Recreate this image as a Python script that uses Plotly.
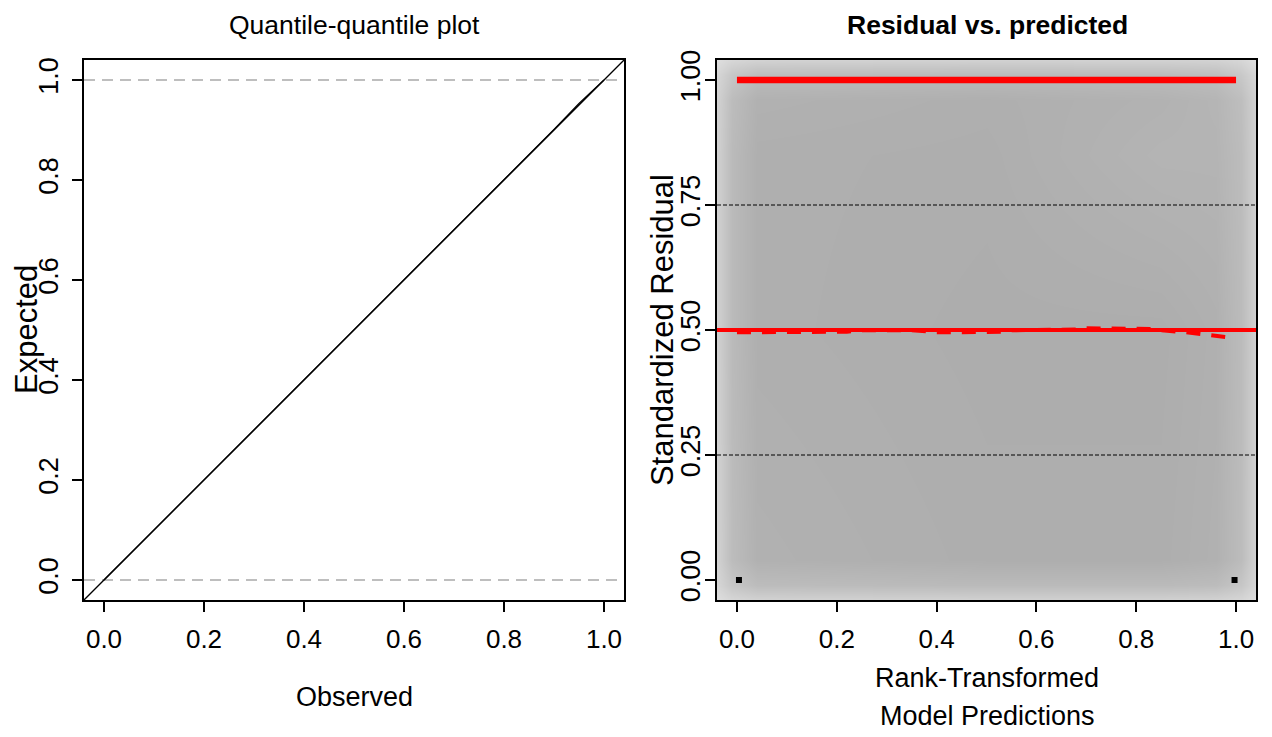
import plotly.graph_objects as go

W, H = 1272, 737
PAGE_OFFSET = 8   # default body margin of the written HTML page

# ---------------- data ----------------
# Left panel: QQ plot (uniform quantiles)
qq_observed = [0.0, 0.1, 0.2, 0.3, 0.4, 0.5, 0.6, 0.7, 0.8, 0.9, 0.95, 1.0]
qq_expected = [0.0, 0.1, 0.2, 0.3, 0.4, 0.5, 0.6, 0.7, 0.8, 0.901, 0.953, 1.0]
ref_line = [-0.04, 1.04]          # abline(0, 1) across the panel
qq_hlines = [0.0, 1.0]            # grey dashed guides

left_xticks = [0.0, 0.2, 0.4, 0.6, 0.8, 1.0]
left_xticklabels = ["0.0", "0.2", "0.4", "0.6", "0.8", "1.0"]
left_yticks = [0.0, 0.2, 0.4, 0.6, 0.8, 1.0]
left_yticklabels = ["0.0", "0.2", "0.4", "0.6", "0.8", "1.0"]

# Right panel: residual vs predicted
pred_x = [0.0, 0.05, 0.1, 0.15, 0.2, 0.22, 0.25, 0.3, 0.35, 0.38, 0.4, 0.45, 0.5,
          0.53, 0.55, 0.6, 0.65, 0.68, 0.7, 0.75, 0.8, 0.83, 0.85, 0.88, 0.9,
          0.93, 0.95, 0.98, 1.0]
q50_fit = [0.4955, 0.4955, 0.4955, 0.4955, 0.4955, 0.4965, 0.4995, 0.5, 0.4995,
           0.4975, 0.4955, 0.4955, 0.4955, 0.4965, 0.4995, 0.5, 0.5, 0.501,
           0.5035, 0.5035, 0.5035, 0.502, 0.4995, 0.4975, 0.4955, 0.492, 0.490,
           0.4865, 0.4835]
top_fit_x = [0.0, 1.0]
top_fit_y = [1.0, 1.0]
outlier_x = [0.004, 0.997]
outlier_y = [0.0, 0.0]
quantile_guides = [0.25, 0.75]
median_guide = 0.5

right_xticks = [0.0, 0.2, 0.4, 0.6, 0.8, 1.0]
right_xticklabels = ["0.0", "0.2", "0.4", "0.6", "0.8", "1.0"]
right_yticks = [0.0, 0.25, 0.5, 0.75, 1.0]
right_yticklabels = ["0.00", "0.25", "0.50", "0.75", "1.00"]

# smoothScatter-like density background (grey level 0-255)
density_x = [-0.04, -0.01, 0.04, 0.5, 0.85, 0.96, 1.01, 1.04]
density_y = [-0.04, -0.01, 0.04, 0.5, 0.85, 0.96, 1.01, 1.04]
density_gray = [
    [222, 214, 210, 209, 209, 210, 214, 222],
    [214, 198, 188, 186, 186, 188, 198, 214],
    [210, 188, 177, 174, 174, 177, 188, 210],
    [209, 186, 175, 173, 173, 176, 187, 209],
    [209, 186, 175, 174, 180, 180, 188, 209],
    [210, 188, 177, 175, 178, 181, 190, 210],
    [214, 198, 188, 186, 187, 190, 200, 214],
    [222, 214, 210, 209, 209, 210, 214, 222],
]

# ---------------- layout helpers ----------------
def px_x(p):
    return (p - PAGE_OFFSET) / W

def px_y(p):
    return 1 - (p - PAGE_OFFSET) / H

FONT = "Liberation Sans, Arial, sans-serif"

fig = go.Figure()

# ---- left panel ----
for h in qq_hlines:
    fig.add_trace(go.Scatter(x=ref_line, y=[h, h], mode="lines",
                             line=dict(color="#A9A9A9", width=1.5, dash="11px,7px"),
                             xaxis="x", yaxis="y", showlegend=False, hoverinfo="skip"))
fig.add_trace(go.Scatter(x=ref_line, y=ref_line, mode="lines",
                         line=dict(color="black", width=1.3),
                         xaxis="x", yaxis="y", showlegend=False, hoverinfo="skip"))
fig.add_trace(go.Scatter(x=qq_observed, y=qq_expected, mode="lines",
                         line=dict(color="black", width=1.3),
                         xaxis="x", yaxis="y", showlegend=False))

# ---- right panel ----
fig.add_trace(go.Heatmap(x=density_x, y=density_y, z=density_gray,
                         zmin=0, zmax=255, zsmooth="best", showscale=False,
                         colorscale=[[0, "rgb(0,0,0)"], [1, "rgb(255,255,255)"]],
                         xaxis="x2", yaxis="y2", hoverinfo="skip"))
for g in quantile_guides:
    fig.add_trace(go.Scatter(x=ref_line, y=[g, g], mode="lines",
                             line=dict(color="black", width=1, dash="4px,2px"),
                             xaxis="x2", yaxis="y2", showlegend=False, hoverinfo="skip"))
fig.add_trace(go.Scatter(x=pred_x, y=q50_fit, mode="lines",
                         line=dict(color="red", width=4, dash="14px,11px"),
                         xaxis="x2", yaxis="y2", showlegend=False))
fig.add_trace(go.Scatter(x=ref_line, y=[median_guide, median_guide], mode="lines",
                         line=dict(color="red", width=4),
                         xaxis="x2", yaxis="y2", showlegend=False, hoverinfo="skip"))
fig.add_trace(go.Scatter(x=top_fit_x, y=top_fit_y, mode="lines",
                         line=dict(color="red", width=6.5),
                         xaxis="x2", yaxis="y2", showlegend=False))
fig.add_trace(go.Scatter(x=outlier_x, y=outlier_y, mode="markers",
                         marker=dict(symbol="square", size=6, color="black"),
                         xaxis="x2", yaxis="y2", showlegend=False))

axis_common = dict(showgrid=False, zeroline=False, showline=True, mirror=True,
                   linecolor="black", linewidth=2, ticks="outside", ticklen=10,
                   tickwidth=1.5, tickcolor="black", range=[-0.04, 1.04],
                   automargin=False)

ydom = [px_y(600), px_y(60)]
fig.update_layout(
    width=W, height=H, margin=dict(l=0, r=0, t=0, b=0, pad=0),
    autosize=False,
    paper_bgcolor="white", plot_bgcolor="white", showlegend=False,
    xaxis=dict(axis_common, domain=[px_x(84), px_x(624)], anchor="y",
               tickvals=left_xticks, ticktext=left_xticklabels,
               tickfont=dict(family=FONT, size=26, color="black"),
               ticklabelstandoff=5),
    yaxis=dict(axis_common, domain=ydom, anchor="x",
               tickvals=left_yticks, ticktext=left_yticklabels, tickangle=-90,
               tickfont=dict(family=FONT, size=27, color="black"),
               ticklabelstandoff=3),
    xaxis2=dict(axis_common, domain=[px_x(717), px_x(1256)], anchor="y2",
                tickvals=right_xticks, ticktext=right_xticklabels,
                tickfont=dict(family=FONT, size=26, color="black"),
                ticklabelstandoff=5),
    yaxis2=dict(axis_common, domain=ydom, anchor="x2",
                tickvals=right_yticks, ticktext=right_yticklabels, tickangle=-90,
                tickfont=dict(family=FONT, size=27, color="black"),
                ticklabelstandoff=-6),
)

def ann(text, x, y, size, angle=0, bold=False):
    t = f"<b>{text}</b>" if bold else text
    fig.add_annotation(text=t, x=px_x(x), y=px_y(y), xref="paper", yref="paper",
                       xanchor="center", yanchor="middle", showarrow=False,
                       textangle=angle, font=dict(family=FONT, size=size, color="black"))

ann("Quantile-quantile plot", 354, 25, 26.5)
ann("Residual vs. predicted", 987, 25, 26.5, bold=True)
ann("Observed", 354, 697, 27)
ann("Rank-Transformed", 987, 678, 27)
ann("Model Predictions", 987, 716, 27)
ann("Expected", 26, 330, 31, angle=-90)
ann("Standardized Residual", 662, 330, 31, angle=-90)

fig.write_html("out.html")
